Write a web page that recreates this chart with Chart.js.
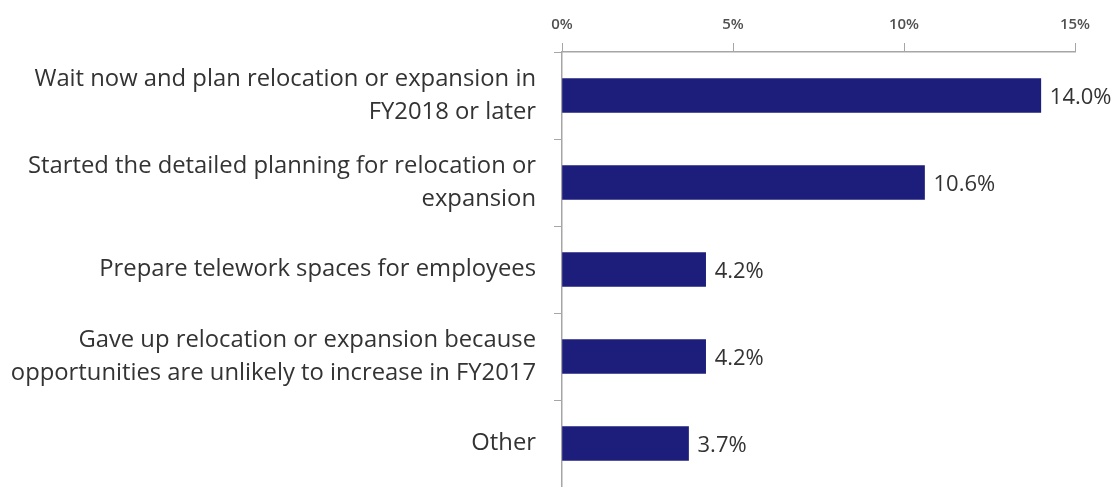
<!DOCTYPE html>
<html>
<head>
<meta charset="utf-8">
<script src="https://cdn.jsdelivr.net/npm/chart.js@4"></script>
<style>
  html, body { margin: 0; padding: 0; background: #fff; }
  #wrap { width: 1117px; height: 487px; }
</style>
</head>
<body>
<div id="wrap"><canvas id="myChart"></canvas></div>
<script>
const categories = [
    ["Wait now and plan relocation or expansion in", "FY2018 or later"],
    ["Started the detailed planning for relocation or", "expansion"],
    ["Prepare telework spaces for employees"],
    ["Gave up relocation or expansion because", "opportunities are unlikely to increase in FY2017"],
    ["Other"],
];
const shares = [14.0, 10.6, 4.2, 4.2, 3.7];
const xTicks = [0, 5, 10, 15];

const textColor = "#333333";
const axisColor = "#a6a6a6";

// writes the value just past the end of each bar
const valueLabels = {
    id: "valueLabels",
    afterDatasetsDraw(chart) {
        const c = chart.ctx;
        const meta = chart.getDatasetMeta(0);
        c.save();
        c.font = "22px 'Open Sans'";
        c.fillStyle = textColor;
        c.textAlign = "left";
        c.textBaseline = "middle";
        meta.data.forEach((bar, i) => {
            c.fillText(shares[i].toFixed(1) + "%", bar.x + 9, bar.y + 2);
        });
        c.restore();
    },
};

const ctx = document.getElementById("myChart");

const chart = new Chart(ctx, {
    type: "bar",
    data: {
        labels: categories,
        datasets: [
            {
                data: shares,
                backgroundColor: "#1d1d7c",
                borderWidth: 0,
                barThickness: 34,
            },
        ],
    },
    options: {
        indexAxis: "y",
        responsive: true,
        maintainAspectRatio: false,
        animation: false,
        layout: {
            autoPadding: false,
            padding: { left: 0, right: 42, top: 0, bottom: 0 },
        },
        scales: {
            x: {
                position: "top",
                min: 0,
                max: 15,
                afterBuildTicks(scale) {
                    scale.ticks = xTicks.map((v) => ({ value: v }));
                },
                afterFit(scale) {
                    scale.height = 52;
                },
                ticks: {
                    callback: (v) => v + "%",
                    color: "#505050",
                    font: { family: "'Open Sans'", size: 15, weight: "600" },
                    padding: 9,
                },
                grid: {
                    drawOnChartArea: false,
                    tickLength: 9,
                    color: axisColor,
                },
                border: { color: axisColor, width: 1.5 },
            },
            y: {
                afterFit(scale) {
                    scale.width = 562;
                    // labels may sit right up to the edges of the plot
                    scale.paddingTop = 0;
                    scale.paddingBottom = 0;
                },
                ticks: {
                    color: textColor,
                    font: { family: "'Open Sans'", size: 23.8, lineHeight: 1.38 },
                    padding: 18,
                },
                grid: {
                    offset: true,
                    drawOnChartArea: false,
                    tickLength: 8,
                    color: axisColor,
                },
                border: { color: axisColor, width: 1.5 },
            },
        },
        plugins: {
            legend: { display: false },
            tooltip: { enabled: false },
        },
    },
    plugins: [valueLabels],
});
</script>
</body>
</html>
